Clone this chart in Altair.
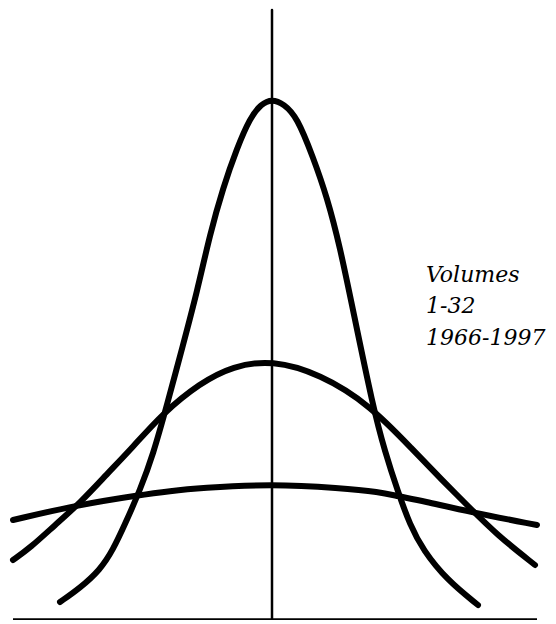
import altair as alt
import pandas as pd

CENTER = 272
BASE = 620

# Curve points (page x, page y)
tall_px = [60, 80, 100, 113, 126, 140, 153, 167, 183, 197, 210, 223, 237, 250, 261, 272,
           284, 297, 313, 327, 340, 353, 373, 385, 398, 410, 423, 447, 478]
tall_py = [602, 588, 570, 550, 522, 490, 455, 405, 345, 292, 234, 188, 148, 118, 104, 99,
           104, 117, 157, 197, 247, 310, 407, 452, 492, 525, 550, 580, 605]

mid_px = [13, 30, 55, 80, 107, 133, 162, 200, 233, 272, 320, 370, 413, 443, 467, 497, 535]
mid_py = [560, 548, 525, 503, 474, 447, 414, 383, 366, 360, 374, 405, 450, 481, 505, 535, 565]

flat_px = [13, 77, 140, 170, 200, 272, 340, 380, 397, 423, 470, 537]
flat_py = [520, 505, 495, 491, 488, 484, 488, 492, 496, 501, 512, 525]

label_lines = ["Volumes", "1-32", "1966-1997"]

rows = []
for name, xs_, ys_ in [("tall", tall_px, tall_py), ("mid", mid_px, mid_py), ("flat", flat_px, flat_py)]:
    for px, py in zip(xs_, ys_):
        rows.append({"curve": name, "x": px - CENTER, "h": BASE - py})
df = pd.DataFrame(rows)

W, H = 540, 612
xs = alt.Scale(domain=[-264, 276], nice=False, zero=False)
ys = alt.Scale(domain=[0, 612], nice=False, zero=False)

curves = alt.Chart(df).mark_line(
    interpolate="basis", stroke="black", strokeWidth=6, strokeCap="round"
).encode(
    x=alt.X("x:Q", scale=xs, axis=None),
    y=alt.Y("h:Q", scale=ys, axis=None),
    detail="curve:N",
    order="x:Q",
)

vdf = pd.DataFrame({"x": [0], "h": [0], "h2": [610]})
vrule = alt.Chart(vdf).mark_rule(stroke="black", strokeWidth=2.5, strokeCap="round").encode(
    x=alt.X("x:Q", scale=xs, axis=None),
    y=alt.Y("h:Q", scale=ys, axis=None),
    y2="h2:Q",
)
hdf = pd.DataFrame({"x": [-259], "x2": [265], "h": [0]})
hrule = alt.Chart(hdf).mark_rule(stroke="black", strokeWidth=3.5).encode(
    x=alt.X("x:Q", scale=xs, axis=None),
    x2="x2:Q",
    y=alt.Y("h:Q", scale=ys, axis=None),
)

label_base = [274, 305, 337]
lab_layers = []
for t, yb in zip(label_lines, label_base):
    lab_layers.append(
        alt.Chart(pd.DataFrame({"t": [t]})).mark_text(
            font="DejaVu Serif", fontStyle="italic", fontSize=22, align="left",
            baseline="alphabetic", color="black"
        ).encode(text="t:N", x=alt.value(418), y=alt.value(yb))
    )

chart = alt.layer(vrule, hrule, curves, *lab_layers).properties(
    width=W, height=H, autosize=alt.AutoSizeParams(type="none"), padding=0
).configure_view(stroke=None)

chart.save("out.html", embed_options={"renderer": "svg", "actions": False})
